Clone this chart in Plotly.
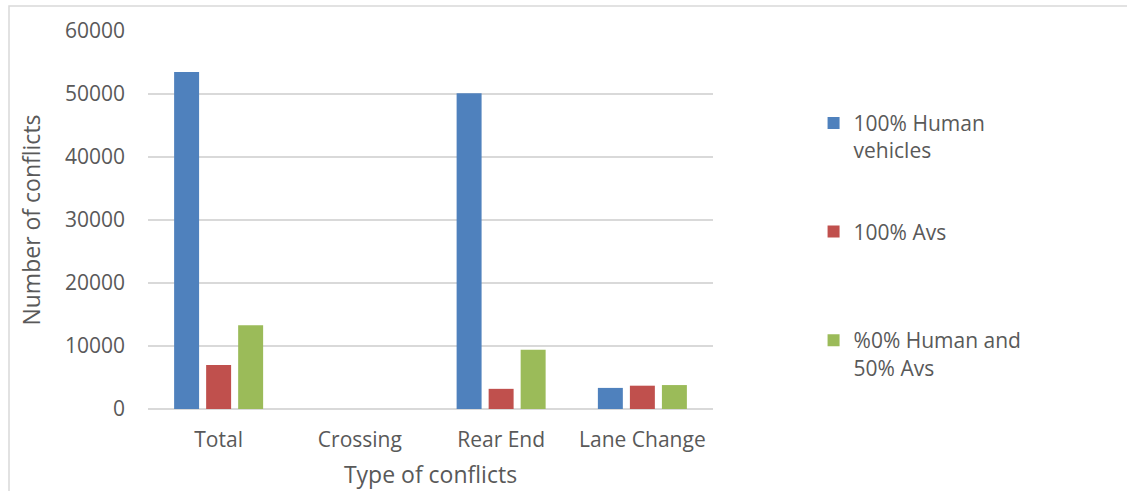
import plotly.graph_objects as go

# Conflict counts by type and traffic mix
categories = ["Total", "Crossing", "Rear End", "Lane Change"]
human_100 = [53500, 0, 50100, 3350]
avs_100 = [7000, 0, 3200, 3700]
mixed_50 = [13300, 0, 9400, 3800]

series_names = ["100% Human<br>vehicles", "100% Avs<br> ", "%0% Human and<br>50% Avs"]
series_colors = ["#4F81BD", "#C0504D", "#9BBB59"]
y_ticks = [0, 10000, 20000, 30000, 40000, 50000, 60000]

TEXT = "#595959"
FONT = "Open Sans"

fig = go.Figure()
for name, vals, col in zip(series_names, [human_100, avs_100, mixed_50], series_colors):
    fig.add_trace(go.Bar(
        x=categories, y=vals, name=name, legendgroup=name,
        marker=dict(color=col, line=dict(width=0)),
    ))

fig.update_layout(
    width=1127, height=491,
    margin=dict(l=148, r=414, t=31, b=82, autoexpand=False),
    paper_bgcolor="white", plot_bgcolor="white",
    barmode="group", bargap=0.32, bargroupgap=0.22,
    font=dict(family=FONT, size=21, color=TEXT),
    showlegend=True,
    legend=dict(
        x=1.178, xanchor="left", y=0.81, yanchor="top",
        font=dict(family=FONT, size=21, color=TEXT),
        valign="top", traceorder="grouped", tracegroupgap=51,
        bgcolor="rgba(0,0,0,0)",
    ),
    xaxis=dict(
        title=dict(text="Type of conflicts", font=dict(size=23, color=TEXT), standoff=14),
        showgrid=False, showline=False, zeroline=False, ticks="",
        ticklabelstandoff=16, automargin=False,
    ),
    yaxis=dict(
        title=dict(text="Number of conflicts", font=dict(size=23, color=TEXT), standoff=17),
        range=[0, 60000], tickvals=y_ticks, ticktext=[str(v) for v in y_ticks],
        showgrid=True, gridcolor="#D9D9D9", gridwidth=1.5,
        zeroline=True, zerolinecolor="#D9D9D9", zerolinewidth=1.5,
        showline=False, ticks="", ticklabelstandoff=22, automargin=False,
    ),
)

# Outer chart frame
fig.add_shape(type="rect", xref="paper", yref="paper",
              x0=(9 - 148) / 565, x1=(1135 - 148) / 565,
              y0=(409.3 - 500) / 378.3, y1=(409.3 - 6) / 378.3,
              line=dict(color="#D9D9D9", width=1.5), fillcolor="rgba(0,0,0,0)", layer="below")

fig.write_html("out.html")
